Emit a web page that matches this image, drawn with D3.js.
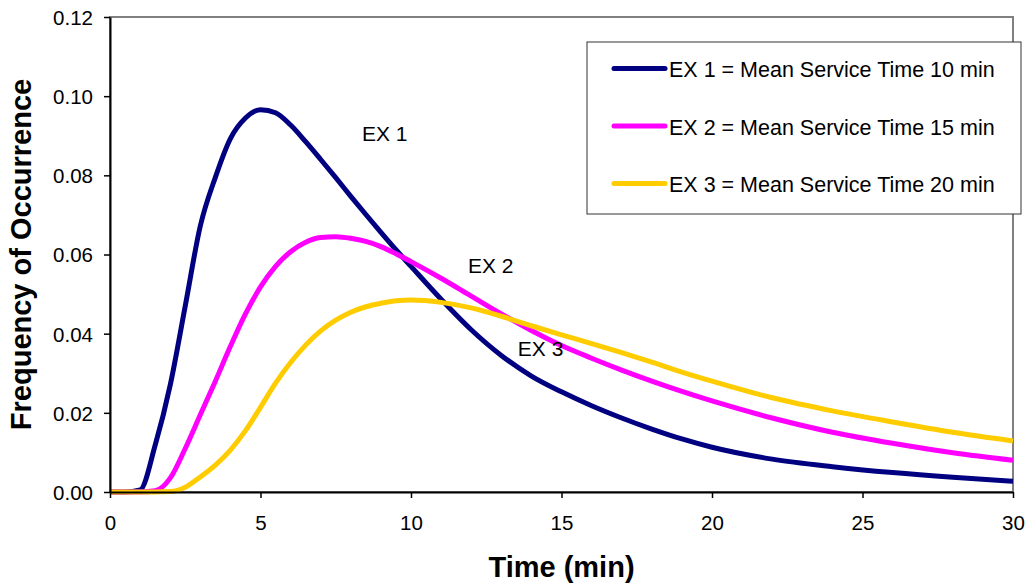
<!DOCTYPE html>
<html>
<head>
<meta charset="utf-8">
<script src="https://cdn.jsdelivr.net/npm/d3@7"></script>
<style>
  html, body { margin: 0; padding: 0; background: #fff; }
  svg { display: block; font-family: "Liberation Sans", Arial, sans-serif; }
</style>
</head>
<body>
<svg id="chart" width="1028" height="586"></svg>
<script>
// ---- data ----
const times = [0, 0.5, 1, 1.5, 2, 2.5, 3, 3.5, 4, 4.5, 5, 5.5, 6, 6.5, 7, 7.5, 8, 8.5, 9, 9.5, 10,
               11, 12, 13, 14, 15, 16, 17, 18, 19, 20, 22, 24, 26, 28, 30];
const ex1 = [0, 0, 0.0005, 0.0118, 0.0270, 0.0470, 0.0672, 0.0795, 0.0893, 0.0945, 0.0966, 0.0958, 0.0927, 0.0885, 0.0840, 0.0794, 0.0747, 0.0701, 0.0656, 0.0612, 0.0570,
             0.0487, 0.0410, 0.0345, 0.0293, 0.0253, 0.0218, 0.0187, 0.0159, 0.0134, 0.0113, 0.0083, 0.0064, 0.0049, 0.0037, 0.0027];
const ex2 = [0, 0, 0, 0.0003, 0.0035, 0.0110, 0.0195, 0.0280, 0.0368, 0.0450, 0.0518, 0.0570, 0.0607, 0.0631, 0.0643, 0.0645, 0.0641, 0.0633, 0.0620, 0.0602, 0.0582,
             0.0540, 0.0495, 0.0450, 0.0408, 0.0370, 0.0338, 0.0308, 0.0280, 0.0254, 0.0230, 0.0187, 0.0151, 0.0123, 0.0099, 0.0080];
const ex3 = [0, 0, 0, 0, 0.0001, 0.0012, 0.0038, 0.0068, 0.0106, 0.0155, 0.0214, 0.0275, 0.0327, 0.0371, 0.0407, 0.0434, 0.0454, 0.0468, 0.0477, 0.0483, 0.0485,
             0.0479, 0.0465, 0.0444, 0.0420, 0.0397, 0.0375, 0.0352, 0.0328, 0.0303, 0.0280, 0.0238, 0.0205, 0.0177, 0.0151, 0.0129];
const seriesNames = ["EX 1 = Mean Service Time 10 min", "EX 2 = Mean Service Time 15 min", "EX 3 = Mean Service Time 20 min"];
const seriesColors = ["#000080", "#FF00FF", "#FFCC00"];
const xTicks = [0, 5, 10, 15, 20, 25, 30];
const yTicks = [0, 0.02, 0.04, 0.06, 0.08, 0.10, 0.12];
const annoLabels = ["EX 1", "EX 2", "EX 3"];
const annoT = [8.37, 11.89, 13.55];
const annoV = [0.0887, 0.0553, 0.0343];
const xTitle = "Time (min)";
const yTitle = "Frequency of Occurrence";

// ---- layout ----
const svg = d3.select("#chart");
const L = 110, T = 17, R = 1013, B = 492;
const x = d3.scaleLinear().domain([0, 30]).range([L, R]);
const y = d3.scaleLinear().domain([0, 0.12]).range([B, T]);
const FONT = '"Liberation Sans", Arial, sans-serif';

// plot frame (top/right gray)
svg.append("rect").attr("x", L).attr("y", T).attr("width", R - L).attr("height", B - T)
  .attr("fill", "#fff").attr("stroke", "#808080").attr("stroke-width", 2);

// series lines
const series = [ex1, ex2, ex3];
const line = d3.line().x(d => x(d[0])).y(d => y(d[1])).curve(d3.curveMonotoneX);
svg.append("g").selectAll("path.series")
  .data(series).join("path")
  .attr("class", "series")
  .attr("fill", "none")
  .attr("stroke", (d, i) => seriesColors[i])
  .attr("stroke-width", 5)
  .attr("stroke-linejoin", "round")
  .attr("d", vals => line(times.map((t, j) => [t, vals[j]])));

// axes
const yAxis = d3.axisLeft(y).tickValues(yTicks).tickFormat(d3.format(".2f")).tickSize(6).tickSizeOuter(0).tickPadding(10);
const xAxis = d3.axisBottom(x).tickValues(xTicks).tickFormat(d3.format("d")).tickSize(6).tickSizeOuter(0);

const gy = svg.append("g").attr("transform", `translate(${L},0)`).call(yAxis);
const gx = svg.append("g").attr("transform", `translate(0,${B})`).call(xAxis);

[gx, gy].forEach(g => {
  g.select(".domain").attr("stroke", "#000").attr("stroke-width", 2);
  g.selectAll(".tick line").attr("stroke", "#000").attr("stroke-width", 1.5);
  g.selectAll(".tick text").attr("fill", "#000").style("font-family", FONT).style("font-size", "20.5px");
});
gy.selectAll(".tick text").attr("x", -17).attr("dy", "0.36em");
gx.selectAll(".tick text").attr("y", 38).attr("dy", 0);

// axis titles
svg.append("text").attr("x", (L + R) / 2).attr("y", 577)
  .attr("text-anchor", "middle").style("font-size", "29px").style("font-weight", "bold")
  .text(xTitle);
svg.append("text").attr("transform", `translate(31,${(T + B) / 2}) rotate(-90)`)
  .attr("text-anchor", "middle").style("font-size", "29px").style("font-weight", "bold")
  .text(yTitle);

// annotations
svg.selectAll("text.anno").data(annoLabels).join("text")
  .attr("class", "anno")
  .attr("x", (d, i) => x(annoT[i])).attr("y", (d, i) => y(annoV[i]))
  .style("font-size", "21px").text(d => d);

// legend
const lg = svg.append("g");
lg.append("rect").attr("x", 587).attr("y", 42).attr("width", 434).attr("height", 172)
  .attr("fill", "#fff").attr("stroke", "#333").attr("stroke-width", 1);
const items = lg.selectAll("g.item").data(seriesNames).join("g")
  .attr("class", "item")
  .attr("transform", (d, i) => `translate(0,${68.5 + i * 57.5})`);
items.append("line").attr("x1", 614).attr("x2", 665).attr("y1", 0).attr("y2", 0)
  .attr("stroke", (d, i) => seriesColors[i]).attr("stroke-width", 5).attr("stroke-linecap", "round");
items.append("text").attr("x", 669).attr("y", 8.5).style("font-size", "21.5px").text(d => d);
</script>
</body>
</html>
